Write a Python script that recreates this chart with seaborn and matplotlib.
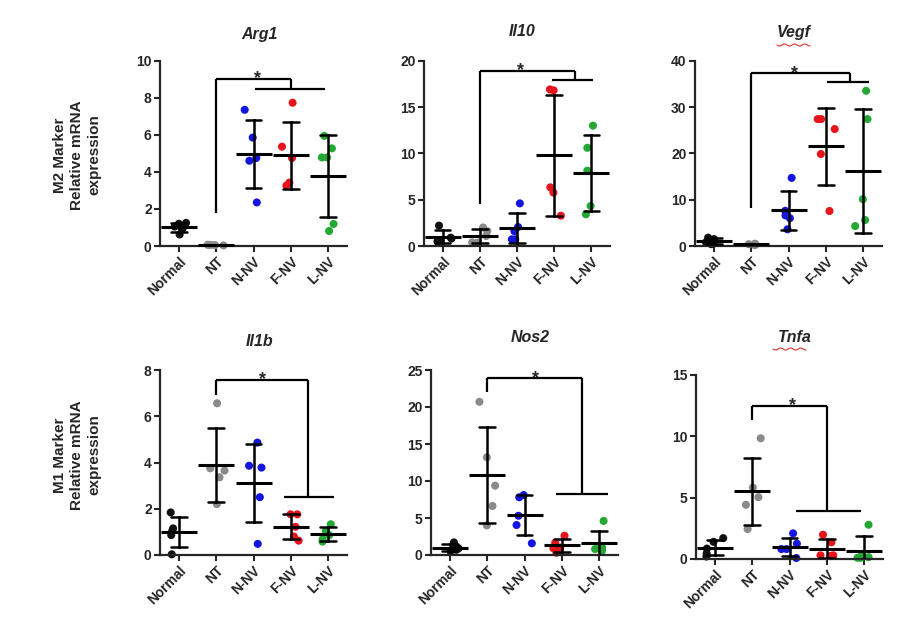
import numpy as np
import pandas as pd
import matplotlib
matplotlib.use("Agg")
import matplotlib.pyplot as plt
from matplotlib.lines import Line2D
import seaborn as sns

# ---------------- data ----------------
GROUPS = ["Normal", "NT", "N-NV", "F-NV", "L-NV"]
COLORS = ["#111111", "#8a8a8a", "#1414e0", "#e8141c", "#22a833"]

GENES = ["Arg1", "Il10", "Vegf", "Il1b", "Nos2", "Tnfa"]

ARG1 = [[0.62, 0.95, 1.05, 1.2, 1.25],
        [0.03, 0.05, 0.06, 0.07, 0.05],
        [7.35, 5.85, 4.75, 4.6, 2.35],
        [7.73, 5.36, 4.75, 3.26, 3.42],
        [5.94, 5.27, 4.78, 4.78, 0.81, 1.19]]
IL10 = [[2.2, 0.5, 0.6, 0.9, 0.8],
        [2.0, 1.6, 1.08, 0.36, 0.4],
        [4.6, 2.05, 1.6, 0.72, 0.72],
        [16.8, 16.9, 6.33, 5.76, 3.27],
        [12.99, 10.6, 8.13, 4.32, 3.42]]
VEGF = [[1.8, 1.5, 0.8, 0.5, 0.4],
        [0.5, 0.3, 0.2, 0.4, 0.4],
        [14.7, 6.6, 6.0, 7.6, 3.6],
        [27.4, 27.4, 25.25, 19.86, 7.55],
        [33.5, 27.4, 10.1, 5.6, 4.3]]
IL1B = [[1.84, 1.15, 1.04, 0.86, 0.03],
        [6.56, 3.75, 3.65, 3.36, 2.2],
        [4.86, 3.86, 3.78, 2.5, 0.48],
        [1.76, 1.76, 1.22, 0.8, 0.62],
        [1.33, 1.04, 0.86, 0.68, 0.58]]
NOS2 = [[1.7, 1.2, 0.9, 0.7, 0.5],
        [20.7, 13.2, 9.37, 6.62, 4.0],
        [8.1, 7.8, 5.3, 4.05, 1.58],
        [2.6, 1.67, 1.0, 0.9, 0.3],
        [4.6, 1.0, 0.9, 0.8, 0.6]]
TNFA = [[1.7, 1.4, 0.45, 0.2, 0.85],
        [9.84, 5.83, 5.04, 4.42, 2.44],
        [2.09, 1.25, 0.81, 0.81, 0.08],
        [1.98, 1.36, 0.3, 0.25, 0.3],
        [2.79, 0.27, 0.15, 0.1, 0.1]]

YMAX = [10, 20, 40, 8, 25, 15]
YSTEP = [2, 5, 10, 2, 5, 5]

ROW_LABELS = ["M2 Marker\nRelative mRNA\nexpression", "M1 Marker\nRelative mRNA\nexpression"]

# significance brackets: (start_y at NT, top_y, drop_x, low_y, low_x0, low_x1, star_x)
BRACKETS = [
    (1.8, 9.03, 3.0, 8.47, 2.05, 3.9, 2.1),
    (4.5, 18.9, 3.57, 17.9, 2.94, 4.04, 2.09),
    (8.1, 37.3, 3.64, 35.3, 3.03, 4.14, 2.16),
    (6.92, 7.57, 3.47, 2.52, 2.81, 4.16, 2.25),
    (22.0, 23.87, 3.53, 8.29, 2.84, 4.22, 2.29),
    (11.33, 12.49, 3.0, 3.88, 2.18, 3.91, 2.07),
]

# ---------------- layout ----------------
W, H = 917, 636
# (left px, right px, top px, bottom px)
AX_PX = [
    (160, 347, 60.7, 246),
    (424, 610, 60.7, 246),
    (695, 882, 60.7, 246),
    (160, 347, 370, 555),
    (431, 618, 370, 555),
    (696, 883, 375, 559),
]
TITLE_Y_PX = [35, 32, 33, 341, 338, 338]
# red spell-check underline under these titles: (x0 px, x1 px, y px)
SQUIGGLES = {"Vegf": (777, 810, 45), "Tnfa": (773, 806, 349)}

sns.set_theme(style="ticks")
plt.rcParams["font.family"] = ["Liberation Sans", "DejaVu Sans"]
plt.rcParams["font.weight"] = "bold"
plt.rcParams["axes.linewidth"] = 1.6

np.random.seed(3)

fig = plt.figure(figsize=(W / 100, H / 100), dpi=100)

all_data = [ARG1, IL10, VEGF, IL1B, NOS2, TNFA]

for i, (gene, gdata) in enumerate(zip(GENES, all_data)):
    l, r, t, b = AX_PX[i]
    ax = fig.add_axes([l / W, 1 - b / H, (r - l) / W, (b - t) / H])

    rows = []
    for g, vals in zip(GROUPS, gdata):
        for v in vals:
            rows.append({"group": g, "value": v})
    df = pd.DataFrame(rows)

    sns.stripplot(data=df, x="group", y="value", hue="group", order=GROUPS,
                  hue_order=GROUPS, palette=COLORS, jitter=0.25, size=5.8,
                  linewidth=0, legend=False, ax=ax, zorder=2)
    for coll in ax.collections:
        coll.set_clip_on(False)

    sns.pointplot(data=df, x="group", y="value", order=GROUPS, errorbar="sd",
                  linestyle="none", marker="_", markersize=26,
                  markeredgewidth=2.2, capsize=0.42, color="black",
                  err_kws={"linewidth": 1.8}, ax=ax, zorder=4)

    ax.set_xlim(-0.5, 4.5)
    ax.set_ylim(0, YMAX[i])
    ax.set_yticks(np.arange(0, YMAX[i] + 0.001, YSTEP[i]))
    ax.set_xlabel("")
    ax.set_ylabel("")
    sns.despine(ax=ax)
    ax.tick_params(axis="both", width=1.5, length=4, labelsize=10, pad=2)
    ax.set_xticks(range(len(GROUPS)))
    ax.set_xticklabels(GROUPS, rotation=45, ha="right", rotation_mode="anchor",
                       fontweight="bold")
    for lab in ax.get_yticklabels():
        lab.set_fontweight("bold")

    # title
    title_y = 1 + (t - TITLE_Y_PX[i]) / (b - t)
    ax.set_title(gene, x=0.53, y=title_y, va="center", fontsize=11.5,
                 fontweight="bold", fontstyle="italic", pad=0)

    # significance bracket
    s0, top, dx, low, lx0, lx1, sx = BRACKETS[i]
    kw = dict(color="black", lw=1.6, clip_on=False, zorder=5,
              solid_capstyle="butt")
    ax.plot([1, 1], [s0, top], **kw)
    ax.plot([1, dx], [top, top], **kw)
    ax.plot([dx, dx], [top, low], **kw)
    ax.plot([lx0, lx1], [low, low], **kw)
    ax.text(sx, top, "*", ha="center", va="center", fontsize=13,
            fontweight="bold", clip_on=False)

    if gene in SQUIGGLES:
        x0, x1, yy = SQUIGGLES[gene]
        xs = np.linspace(x0, x1, 60)
        ys = yy + 1.0 * np.sin((xs - x0) / 1.6)
        fig.add_artist(Line2D(xs / W, 1 - ys / H, color="#e03030", lw=0.8,
                              transform=fig.transFigure))

# row labels
fig.text(77 / W, 1 - 155 / H, ROW_LABELS[0], rotation=90, ha="center",
         va="center", fontsize=11, fontweight="bold", multialignment="center",
         linespacing=1.3)
fig.text(77 / W, 1 - 455 / H, ROW_LABELS[1], rotation=90, ha="center",
         va="center", fontsize=11, fontweight="bold", multialignment="center",
         linespacing=1.3)

fig.savefig("out.png", dpi=100, facecolor="white")
